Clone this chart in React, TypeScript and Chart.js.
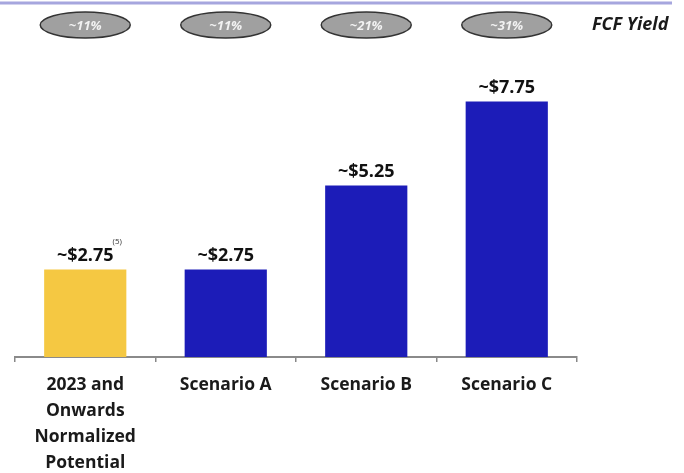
import React, { useEffect, useRef } from "react";
import { Chart, registerables } from "chart.js";

Chart.register(...registerables);

const categories: string[][] = [
  ["2023 and", "Onwards", "Normalized", "Potential"],
  ["Scenario A"],
  ["Scenario B"],
  ["Scenario C"],
];
const values: number[] = [2.75, 2.75, 5.25, 7.75];
const valueLabels: string[] = ["~$2.75", "~$2.75", "~$5.25", "~$7.75"];
const yieldLabels: string[] = ["~11%", "~11%", "~21%", "~31%"];
const barColors: string[] = ["#F5C842", "#1C1CB8", "#1C1CB8", "#1C1CB8"];
const footnote = "(5)";
const yieldTitle = "FCF Yield";

const FONT = "'Open Sans', 'DejaVu Sans', sans-serif";

const overlayPlugin = {
  id: "overlay",
  afterDraw(chart: any) {
    const ctx = chart.ctx as CanvasRenderingContext2D;
    const meta = chart.getDatasetMeta(0);
    const xScale = chart.scales.x;
    ctx.save();
    // top line
    ctx.strokeStyle = "#A6A6DE";
    ctx.lineWidth = 3;
    ctx.beginPath();
    ctx.moveTo(0, 3);
    ctx.lineTo(672, 3);
    ctx.stroke();

    // ellipses
    yieldLabels.forEach((t, i) => {
      const cx = xScale.getPixelForValue(i);
      const cy = 25;
      ctx.beginPath();
      ctx.ellipse(cx, cy, 45, 13, 0, 0, Math.PI * 2);
      ctx.fillStyle = "#A0A0A0";
      ctx.fill();
      ctx.lineWidth = 1.5;
      ctx.strokeStyle = "#333333";
      ctx.stroke();
      ctx.fillStyle = "#F2F2F2";
      ctx.font = `italic bold 13px ${FONT}`;
      ctx.textAlign = "center";
      ctx.textBaseline = "middle";
      ctx.fillText(t, cx, cy + 1);
    });

    // FCF Yield
    ctx.fillStyle = "#1a1a1a";
    ctx.font = `italic bold 18px ${FONT}`;
    ctx.textAlign = "left";
    ctx.textBaseline = "middle";
    ctx.fillText(yieldTitle, 592, 25);

    // value labels
    meta.data.forEach((bar: any, i: number) => {
      ctx.fillStyle = "#111111";
      ctx.font = `bold 18px ${FONT}`;
      ctx.textAlign = "center";
      ctx.textBaseline = "alphabetic";
      const y = bar.y - 9;
      ctx.fillText(valueLabels[i], bar.x, y);
      if (i === 0) {
        const w = ctx.measureText(valueLabels[i]).width;
        ctx.font = `8px ${FONT}`;
        ctx.textAlign = "left";
        ctx.fillStyle = "#333";
        ctx.fillText(footnote, bar.x + w / 2 - 1, y - 17);
      }
    });
    ctx.restore();
  },
};

export default function App() {
  const ref = useRef<HTMLCanvasElement | null>(null);
  useEffect(() => {
    document.body.style.margin = "0";
    const chart = new Chart(ref.current as HTMLCanvasElement, {
      type: "bar",
      data: {
        labels: categories,
        datasets: [
          {
            data: values,
            backgroundColor: barColors,
            barPercentage: 0.585,
            categoryPercentage: 1,
          },
        ],
      },
      options: {
        animation: false,
        responsive: false,
        maintainAspectRatio: false,
        layout: { padding: { left: 15, right: 107, top: 26, bottom: -13 } },
        plugins: { legend: { display: false }, tooltip: { enabled: false } },
        scales: {
          x: {
            grid: {
              drawOnChartArea: false,
              drawTicks: true,
              tickLength: 5,
              color: "#888888",
              lineWidth: 1.5,
            },
            border: { color: "#8A8A8A", width: 2 },
            ticks: {
              padding: 10,
              color: "#1a1a1a",
              font: { family: FONT, size: 17.5, weight: "bold", lineHeight: 1.486 },
              maxRotation: 0,
              autoSkip: false,
            },
          },
          y: { display: false, min: 0.15, max: 10 },
        },
      },
      plugins: [overlayPlugin],
    });
    return () => chart.destroy();
  }, []);
  return <canvas ref={ref} width={684} height={473} style={{ display: "block" }} />;
}
